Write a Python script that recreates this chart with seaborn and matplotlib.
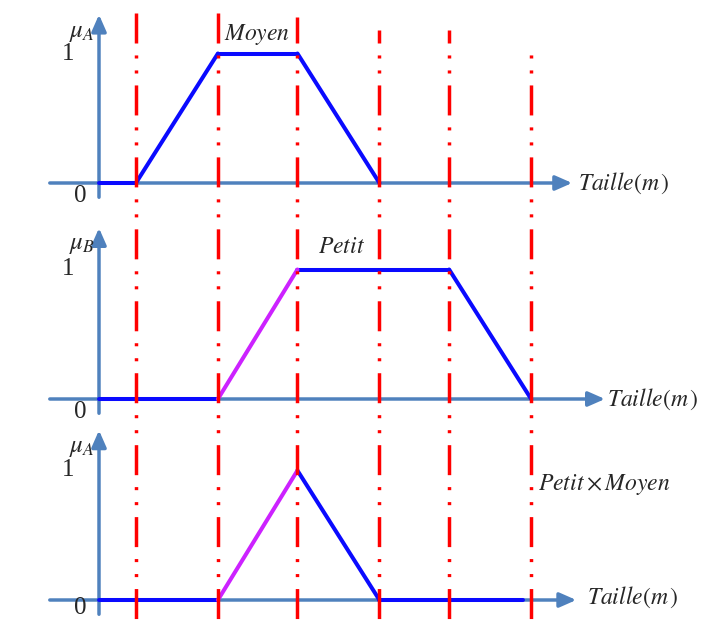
import numpy as np
import pandas as pd
import seaborn as sns
import matplotlib.pyplot as plt
from matplotlib.patches import ArrowStyle

# --- donnees (abscisses en unites arbitraires de taille) ---
seuils = [0.45, 1.45, 2.42, 3.42, 4.27, 5.27]   # lignes rouges verticales

x_moyen = [0, 0.45, 1.45, 2.42, 3.42]
mu_moyen = [0, 0, 1, 1, 0]

x_petit = [0, 1.45, 2.42, 4.27, 5.27]
mu_petit = [0, 0, 1, 1, 0]

x_prod = [0, 0.45, 1.45, 2.42, 3.42, 4.27, 5.17]
mu_prod = [0, 0, 0, 1, 0, 0, 0]

# segments traces en violet (indice du segment dans chaque courbe)
violet_moyen = []
violet_petit = [1]
violet_prod = [2]

titres = [r'$Moyen$', r'$Petit$', r'$Petit \times Moyen$']
mu_labels = [r'$\mu_A$', r'$\mu_B$', r'$\mu_A$']
axe_label = r'$Taille(m\,)$'

BLEU = '#0a0aff'
VIOLET = '#cc22ff'
AXE = '#4f81bd'
ROUGE = '#ff0000'

W, H = 712, 621
PX_X = 82.0      # pixels par unite en x
X0 = 99.0        # pixel de l'axe vertical
PX_MU = 129.5    # pixels pour mu = 1


def segments(x, mu, violet):
    rows = []
    for i in range(len(x) - 1):
        c = 'violet' if i in violet else 'bleu'
        rows.append((i, c, x[i], mu[i]))
        rows.append((i, c, x[i + 1], mu[i + 1]))
    return pd.DataFrame(rows, columns=['seg', 'couleur', 'x', 'mu'])


sns.set_theme(style='white')
plt.rcParams['font.family'] = ['Liberation Serif', 'DejaVu Serif']
plt.rcParams['mathtext.fontset'] = 'stix'
plt.rcParams['lines.scale_dashes'] = False

fig = plt.figure(figsize=(W / 100, H / 100), dpi=100)
fig.patch.set_facecolor('white')

# (haut, bas, zero) des panneaux en pixels
panneaux = [(0, 207, 183), (207, 414, 399), (414, 621, 600)]
courbes = [(x_moyen, mu_moyen, violet_moyen),
           (x_petit, mu_petit, violet_petit),
           (x_prod, mu_prod, violet_prod)]
fin_axe = [5.77, 6.17, 5.82]
pos_taille = [(5.84, 0.0), (6.2, 0.0), (5.95, 0.02)]
pos_titre = [(1.93, 1.15, 'center'), (2.96, 1.17, 'center'), (5.35, 0.89, 'left')]
pos_mu = [1.16, 1.19, 1.17]
pos_zero = [-0.1, -0.1, -0.065]
haut_fleche = [1.30, 1.32, 1.31]

fleche = ArrowStyle('-|>', head_length=0.5, head_width=0.22)

for k, (top, bot, zero) in enumerate(panneaux):
    ax = fig.add_axes([0, 1 - bot / H, 1, (bot - top) / H])
    ax.set_xlim(-X0 / PX_X, (W - X0) / PX_X)
    ax.set_ylim(-(bot - zero) / PX_MU, (zero - top) / PX_MU)
    ax.axis('off')

    # axes avec fleches
    ax.annotate('', xy=(fin_axe[k], 0), xytext=(-0.6, 0),
                arrowprops=dict(arrowstyle=fleche, color=AXE, lw=2.5,
                                mutation_scale=20, shrinkA=0, shrinkB=0))
    ax.annotate('', xy=(0, haut_fleche[k]), xytext=(0, -0.11),
                arrowprops=dict(arrowstyle=fleche, color=AXE, lw=2.5,
                                mutation_scale=20, shrinkA=0, shrinkB=0))

    x, mu, violet = courbes[k]
    df = segments(x, mu, violet)
    sns.lineplot(data=df, x='x', y='mu', hue='couleur', units='seg',
                 estimator=None, sort=False, palette={'bleu': BLEU, 'violet': VIOLET},
                 lw=2.9, legend=False, ax=ax, solid_capstyle='round', zorder=3)

    ax.text(-0.21, pos_mu[k], mu_labels[k], fontsize=18, ha='center', va='center')
    ax.text(-0.38, 1.0, '1', fontsize=18, ha='center', va='center')
    ax.text(-0.23, pos_zero[k], '0', fontsize=18, ha='center', va='center')
    tx, ty, ha = pos_titre[k]
    ax.text(tx, ty, titres[k], fontsize=17, ha=ha, va='center')
    ax.text(pos_taille[k][0], pos_taille[k][1], axe_label, fontsize=17,
            ha='left', va='center')

# lignes rouges sur toute la hauteur
over = fig.add_axes([0, 0, 1, 1])
over.set_xlim(-X0 / PX_X, (W - X0) / PX_X)
over.set_ylim(H, 0)
over.axis('off')
hauts = [13, 13, 17, 30, 30, 47]
motif = (21.6, 8.6, 2.2, 8.6, 2.2, 8.6)
for s, t in zip(seuils, hauts):
    over.plot([s, s], [t, H], color=ROUGE, lw=2.5,
              linestyle=((t - 13) * 0.72, motif), zorder=5)

fig.savefig('out.png', dpi=100)
